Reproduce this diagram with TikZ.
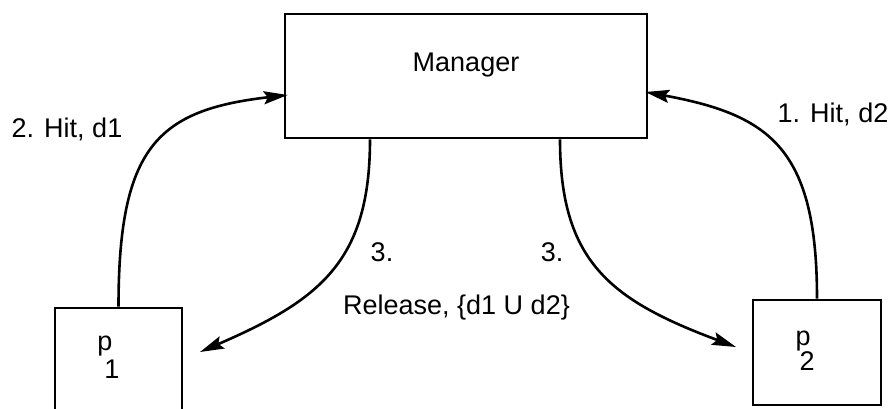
\documentclass[tikz,border=0pt]{standalone}
\usepackage{fontspec}
\setmainfont{Liberation Sans}
\usetikzlibrary{arrows.meta}
\begin{document}
\begin{tikzpicture}[x=1pt,y=-1pt,
  boxnode/.style={draw,line width=2.6pt,inner sep=0pt},
  txt/.style={font=\fontsize{27}{30}\selectfont,inner sep=0pt},
  link/.style={line width=2.6pt,-{Stealth[length=24pt,width=13pt,inset=4pt]}}]
\useasboundingbox (0,0) rectangle (893,409);
\clip (0,0) rectangle (893,409);
% boxes
\node[boxnode,minimum width=362pt,minimum height=124pt] (manager) at (466,76) {};
\node[boxnode,minimum width=127pt,minimum height=106pt] (p1) at (118.5,361) {};
\node[boxnode,minimum width=128pt,minimum height=105pt] (p2) at (817,352.5) {};
% box texts
\node[txt,anchor=base] (mgrtxt) at (466,72) {Manager};
\node[txt,anchor=base] (p1txt) at (105,350) {p};
\node[txt,anchor=base] (p1sub) at (112,378) {1};
\node[txt,anchor=base] (p2txt) at (803,345) {p};
\node[txt,anchor=base] (p2sub) at (807,370) {2};
% messages
\draw[link] (p1.north) .. controls +(0,-160) and +(-130,15) .. ([xshift=4pt,yshift=-19pt]manager.west);
\draw[link] (p2.north) .. controls +(0,-150) and +(125,23) .. ([xshift=-3pt,yshift=-16pt]manager.east);
\draw[link] ([xshift=-96pt]manager.south) .. controls +(0,122) and +(120,-52) .. (200,352) coordinate (e1);
\draw[link] ([xshift=94pt]manager.south) .. controls +(0,122) and +(-126,-47) .. (736,347) coordinate (e2);
% labels
\node[txt,anchor=base] (l2) at (67,137) {2. Hit, d1};
\node[txt,anchor=base] (l1) at (833,122) {1. Hit, d2};
\node[txt,anchor=base] (l3a) at (382,261) {3.};
\node[txt,anchor=base] (l3b) at (552,261) {3.};
\node[txt,anchor=base] (rel) at (456.5,314) {Release, \{d1 U d2\}};
\end{tikzpicture}
\end{document}
